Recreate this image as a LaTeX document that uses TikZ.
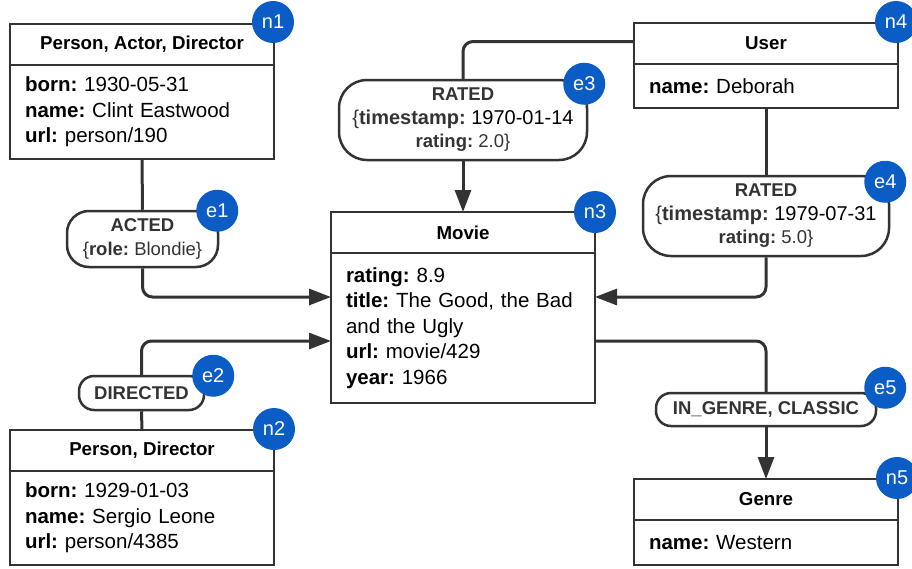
\documentclass[tikz,border=0pt]{standalone}
\usepackage{fontspec}
\setmainfont{Liberation Sans}
\usetikzlibrary{arrows.meta,positioning}
\definecolor{ink}{HTML}{333333}
\definecolor{badge}{HTML}{0B5CC5}
\frenchspacing

\begin{document}
\begin{tikzpicture}[x=1pt, y=-1pt,
    head/.style={draw=ink, line width=2.5pt, minimum width=264pt, minimum height=41pt,
                 inner sep=0pt, outer sep=0pt, font=\fontsize{18.7}{22}\selectfont\bfseries},
    props/.style={draw=ink, line width=2.5pt, minimum width=264pt, minimum height=#1,
                  text width=234pt, inner sep=0pt, outer sep=0pt, align=left, anchor=north,
                  font=\fontsize{20.5}{25.5}\selectfont},
    rel/.style={draw=ink, line width=2.5pt, fill=white, rounded corners=#1, align=center,
                inner sep=0pt, text=ink, font=\fontsize{18.5}{23.5}\selectfont},
    tag/.style={circle, fill=badge, text=white, minimum size=42pt, inner sep=0pt,
                font=\fontsize{20}{20}\selectfont},
    link/.style={draw=ink, line width=3pt, rounded corners=10pt},
    tip/.style={-{Triangle[length=22pt,width=16pt]}}]
\useasboundingbox (0,0) rectangle (912,568);

% nodes
\node[head] (n1) at (142,44.5) {Person, Actor, Director};
\node[props=94pt] (n1p) at (n1.south) {\textbf{born:} 1930-05-31\\\textbf{name:} Clint Eastwood\\\textbf{url:} person/190};
\node[head] (n2) at (142,450.5) {Person, Director};
\node[props=94pt] (n2p) at (n2.south) {\textbf{born:} 1929-01-03\\\textbf{name:} Sergio Leone\\\textbf{url:} person/4385};
\node[head] (n3) at (463,232.5) {Movie};
\node[props=150pt] (n3p) at (n3.south) {\textbf{rating:} 8.9\\\textbf{title:} The Good, the Bad\\and the Ugly\\\textbf{url:} movie/429\\\textbf{year:} 1966};
\node[head] (n4) at (766,43.5) {User};
\node[props=44pt] (n4p) at (n4.south) {\textbf{name:} Deborah};
\node[head] (n5) at (766,499.5) {Genre};
\node[props=45pt] (n5p) at (n5.south) {\textbf{name:} Western};

% relationships
\node[rel=22pt, minimum width=151pt, minimum height=56pt] (e1) at (142.5,239)
  {\textbf{ACTED}\\\{\textbf{role:} Blondie\}};
\node[rel=15pt, minimum width=125pt, minimum height=34pt] (e2) at (141.5,393) {\textbf{DIRECTED}};
\node[rel=28pt, minimum width=248pt, minimum height=80pt] (e3) at (463,120)
  {\textbf{RATED}\\{\fontsize{20}{24}\selectfont\{\textbf{timestamp:} \textcolor{black}{1970-01-14}}\\\textbf{rating:} 2.0\}};
\node[rel=28pt, minimum width=246pt, minimum height=80pt] (e4) at (766,216)
  {\textbf{RATED}\\{\fontsize{20}{24}\selectfont\{\textbf{timestamp:} \textcolor{black}{1979-07-31}}\\\textbf{rating:} 5.0\}};
\node[rel=15pt, minimum width=220pt, minimum height=33pt] (e5) at (766,409.5) {\textbf{IN\_GENRE, CLASSIC}};

% connectors
\draw[link] (n1p.south) -- (e1.north);
\draw[link,tip] (e1.south) |- ([yshift=31pt]n3p.west);
\draw[link] (n2.north) -- (e2.south);
\draw[link,tip] (e2.north) |- ([yshift=-13pt]n3p.west);
\draw[link] ([yshift=2pt]n4.west) -| (e3.north);
\draw[link,tip] (e3.south) -- (n3.north);
\draw[link] (n4p.south) -- (e4.north);
\draw[link,tip] (e4.south) |- ([yshift=31pt]n3p.east);
\draw[link] ([yshift=-13pt]n3p.east) -| (e5.north);
\draw[link,tip] (e5.south) -- (n5.north);

% badges
\node[tag] at ([shift={(-1,-2)}]n1.north east) {n1};
\node[tag] at ([shift={(0,-1)}]n2.north east) {n2};
\node[tag] at (n3.north east) {n3};
\node[tag] at ([shift={(-2,-1)}]n4.north east) {n4};
\node[tag] at ([shift={(-1,-1)}]n5.north east) {n5};
\node[tag] at ([shift={(-2,1)}]e1.north east) {e1};
\node[tag] at ([shift={(8,1)}]e2.north east) {e2};
\node[tag] at ([shift={(-4,5)}]e3.north east) {e3};
\node[tag] at ([shift={(-5,7)}]e4.north east) {e4};
\node[tag] at ([shift={(8,-4)}]e5.north east) {e5};
\end{tikzpicture}
\end{document}
